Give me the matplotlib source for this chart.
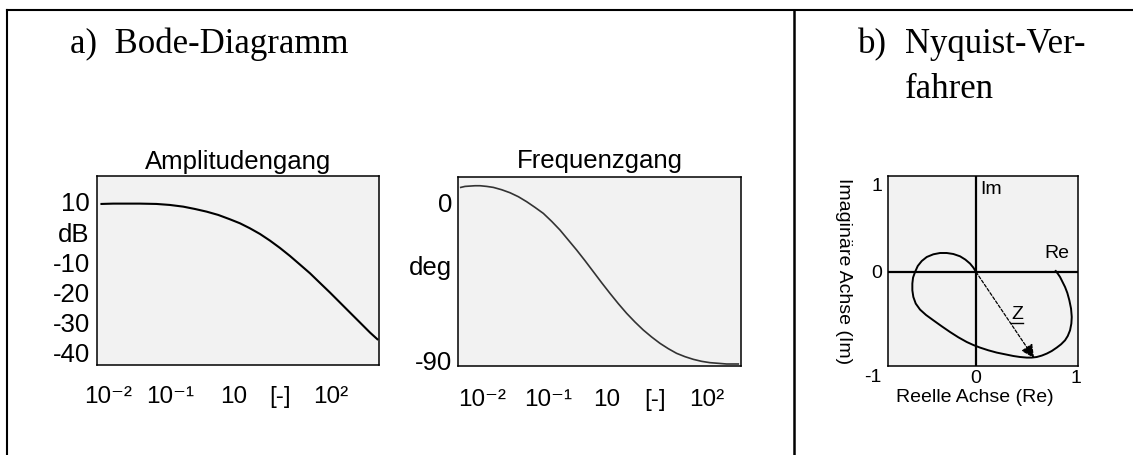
import matplotlib
matplotlib.use("Agg")
import matplotlib.pyplot as plt
from matplotlib.lines import Line2D
from matplotlib.ticker import NullLocator
import numpy as np

plt.rcParams['font.family'] = ['Liberation Sans', 'DejaVu Sans']

# Amplitudengang: log10 of frequency and level in dB
amp_logw = [-2.102, -1.914, -1.753, -1.484, -1.215, -1.0, -0.785, -0.597, -0.409,
            -0.220, -0.032, 0.129, 0.290, 0.452, 0.613, 0.774, 0.935, 1.097,
            1.258, 1.419, 1.581, 1.742, 1.903, 2.065, 2.226, 2.344]
amp_db = [9.34, 9.45, 9.45, 9.45, 9.34, 9.01, 8.45, 7.68, 6.80,
          5.70, 4.26, 2.94, 1.28, -0.60, -2.80, -5.23, -7.88, -10.75,
          -13.62, -16.82, -20.02, -23.33, -26.64, -29.96, -33.27, -35.47]

# Frequenzgang: log10 of frequency and phase in degrees
ph_logw = [-2.323, -2.258, -2.182, -2.106, -2.030, -1.929, -1.828, -1.702, -1.576,
           -1.449, -1.323, -1.197, -1.071, -0.944, -0.818, -0.692, -0.566, -0.439,
           -0.313, -0.187, -0.061, 0.066, 0.192, 0.318, 0.444, 0.571, 0.697,
           0.823, 0.949, 1.076, 1.202, 1.328, 1.455, 1.581, 1.707, 1.884]
ph_deg = [8.35, 8.92, 9.11, 9.30, 9.30, 8.92, 8.35, 7.02, 5.31,
          3.04, 0.19, -3.04, -6.45, -11.01, -15.95, -21.64, -27.33, -33.41,
          -39.67, -45.94, -52.01, -57.90, -63.40, -68.34, -72.89, -76.88, -80.48,
          -83.52, -86.18, -88.08, -89.60, -90.74, -91.50, -91.87, -92.26, -92.26]

# Ortskurve (Nyquist)
nyq_re = [0.0, -0.027, -0.06, -0.107, -0.16, -0.227, -0.293, -0.36, -0.427, -0.493,
          -0.543, -0.583, -0.61, -0.63, -0.637, -0.637, -0.627, -0.603, -0.56, -0.50,
          -0.427, -0.343, -0.26, -0.177, -0.093, -0.027, 0.04, 0.123, 0.207, 0.29,
          0.373, 0.44, 0.507, 0.557, 0.607, 0.657, 0.707, 0.757, 0.807, 0.85,
          0.89, 0.917, 0.94, 0.953, 0.957, 0.95, 0.933, 0.913, 0.89, 0.863,
          0.84, 0.817, 0.797]
nyq_im = [0.0, 0.044, 0.084, 0.124, 0.157, 0.18, 0.19, 0.19, 0.177, 0.15,
          0.11, 0.06, 0.0, -0.056, -0.116, -0.183, -0.25, -0.316, -0.376, -0.43,
          -0.483, -0.543, -0.60, -0.653, -0.70, -0.73, -0.756, -0.783, -0.806, -0.823,
          -0.84, -0.85, -0.856, -0.856, -0.85, -0.836, -0.816, -0.79, -0.756, -0.723,
          -0.683, -0.64, -0.583, -0.516, -0.45, -0.366, -0.283, -0.21, -0.15, -0.096,
          -0.05, -0.016, 0.01]
z_tip = (0.58, -0.86)

freq_labels = ['10\u207b\u00b2', '10\u207b\u00b9', '10', '[-]', '10\u00b2']
amp_ticks = [10, 0, -10, -20, -30, -40]
amp_ticklabels = ['10', 'dB', '-10', '-20', '-30', '-40']
ph_ticks = [0, -36, -90]
ph_ticklabels = ['0', 'deg', '-90']

face = '#f2f2f2'

fig = plt.figure(figsize=(11.33, 4.55), dpi=100)

# outer frame
fig.add_artist(Line2D([0.0066, 1.0], [0.978, 0.978], color='black', lw=1.5))
fig.add_artist(Line2D([0.0066, 0.0066], [0.0, 0.978], color='black', lw=1.5))
fig.add_artist(Line2D([0.7012, 0.7012], [0.0, 0.978], color='black', lw=1.8))

serif = ['Liberation Serif', 'DejaVu Serif']
fig.text(70 / 1133, 1 - 53 / 455, 'a)  Bode-Diagramm', family=serif, fontsize=25,
         va='baseline', ha='left')
fig.text(858 / 1133, 1 - 53 / 455, 'b)', family=serif, fontsize=25,
         va='baseline', ha='left')
fig.text(905 / 1133, 1 - 53 / 455, 'Nyquist-Ver-', family=serif, fontsize=25,
         va='baseline', ha='left')
fig.text(905 / 1133, 1 - 98 / 455, 'fahren', family=serif, fontsize=25,
         va='baseline', ha='left')


def style_box(ax):
    ax.set_facecolor(face)
    for s in ax.spines.values():
        s.set_linewidth(1.1)
        s.set_color('black')
    ax.tick_params(length=0)


# --- Amplitudengang
ax1 = fig.add_axes([0.0853, 0.1978, 0.2492, 0.4154])
style_box(ax1)
ax1.set_xscale('log')
ax1.plot(10.0 ** np.array(amp_logw), amp_db, color='black', lw=1.5)
ax1.set_xlim(10 ** -2.18, 10 ** 2.37)
ax1.set_ylim(-44, 18.6)
ax1.set_xticks(10.0 ** np.array([-2, -1, 0.03, 0.77, 1.6]))
ax1.xaxis.set_minor_locator(NullLocator())
ax1.set_xticklabels(freq_labels, fontsize=17.5)
ax1.set_yticks(amp_ticks)
ax1.set_yticklabels(amp_ticklabels, fontsize=18.5)
ax1.tick_params(axis='y', pad=5)
ax1.tick_params(axis='x', pad=27)
for lab in ax1.get_xticklabels():
    lab.set_verticalalignment('baseline')
ax1.set_title('Amplitudengang', fontsize=18.5, pad=5)

# --- Frequenzgang
ax2 = fig.add_axes([0.4045, 0.1956, 0.2492, 0.4147])
style_box(ax2)
ax2.set_xscale('log')
ax2.plot(10.0 ** np.array(ph_logw), ph_deg, color='#333333', lw=1.2)
ax2.set_xlim(10 ** -2.36, 10 ** 1.92)
ax2.set_ylim(-93.4, 14.1)
ax2.set_xticks(10.0 ** np.array([-2, -1, -0.11, 0.62, 1.41]))
ax2.xaxis.set_minor_locator(NullLocator())
ax2.set_xticklabels(freq_labels, fontsize=17.5)
ax2.set_yticks(ph_ticks)
ax2.set_yticklabels(ph_ticklabels, fontsize=18.5)
ax2.tick_params(axis='y', pad=4.5)
ax2.tick_params(axis='x', pad=29)
for lab in ax2.get_xticklabels():
    lab.set_verticalalignment('baseline')
ax2.set_title('Frequenzgang', fontsize=18.5, pad=6.5)

# --- Nyquist
ax3 = fig.add_axes([0.7838, 0.1956, 0.1677, 0.4176])
style_box(ax3)
ax3.set_xlim(-0.88, 1.02)
ax3.set_ylim(-0.94, 0.96)
ax3.axhline(0, color='black', lw=1.6)
ax3.axvline(0, color='black', lw=1.6)
ax3.plot(nyq_re, nyq_im, color='black', lw=1.4)
ax3.annotate('', xy=z_tip, xytext=(0, 0),
             arrowprops=dict(arrowstyle='-|>', color='black', lw=0.9,
                             linestyle=(0, (2.5, 1.5)), mutation_scale=20,
                             shrinkA=0, shrinkB=0))
ax3.text(0.41, -0.43, 'Z', fontsize=14, ha='center', va='center')
ax3.plot([0.35, 0.47], [-0.51, -0.51], color='black', lw=1.0)
ax3.text(0.04, 0.82, 'Im', fontsize=14, ha='left', va='center')
ax3.text(0.81, 0.18, 'Re', fontsize=14, ha='center', va='center')
ax3.set_xticks([0, 1])
ax3.set_xticklabels(['0', '1'], fontsize=14)
ax3.set_yticks([0, 0.87])
ax3.set_yticklabels(['0', '1'], fontsize=14)
ax3.tick_params(axis='x', pad=3)
ax3.tick_params(axis='y', pad=4)
ax3.text(-1.03, -0.063, '-1', fontsize=14, ha='center', va='center',
         transform=ax3.get_xaxis_transform(), clip_on=False)
ax3.set_xlabel('Reelle Achse (Re)', fontsize=14)
ax3.xaxis.set_label_coords(0.458, -0.168)
ax3.xaxis.label.set_verticalalignment('center')
ax3.set_ylabel('Imaginäre Achse (Im)', fontsize=14, rotation=270)
ax3.yaxis.set_label_coords(-0.237, 0.5)
ax3.yaxis.label.set_verticalalignment('center')

fig.savefig('out.png', dpi=100)
